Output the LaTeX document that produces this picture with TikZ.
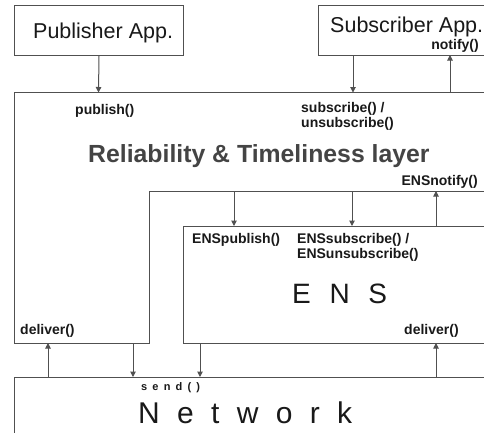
\documentclass[tikz,border=0pt]{standalone}
\usepackage{fontspec}
\setmainfont{Liberation Sans}
\usetikzlibrary{arrows.meta}
\definecolor{ln}{RGB}{80,80,80}
\definecolor{tx}{RGB}{25,25,25}
\definecolor{big}{RGB}{68,68,68}
\begin{document}
\begin{tikzpicture}[x=1pt,y=-1pt,
  box/.style={draw=ln, line width=1pt},
  arr/.style={draw=ln, line width=1pt, -{Triangle[length=5.5pt,width=5.5pt]}},
  lbl/.style={inner sep=0pt, anchor=base west, font=\fontsize{14}{16}\selectfont\bfseries, text=tx},
  lble/.style={lbl, anchor=base east},
  apptext/.style={inner sep=0pt, anchor=base west, font=\fontsize{21.5}{24}\selectfont, text=tx},
]
\useasboundingbox (0,0) rectangle (484,432);
\clip (0,0) rectangle (484,432);
\fill[white] (0,0) rectangle (484,432);

% boxes
\node[box, minimum width=169pt, minimum height=50pt, anchor=north west, inner sep=0pt] (pub) at (14,5) {};
\node[apptext] (pubtext) at (33,38) {Publisher App.};
\node[box, minimum width=190pt, minimum height=50pt, anchor=north west, inner sep=0pt] (sub) at (318,5) {};
\node[apptext] (subtext) at (330,32) {Subscriber App.};

% Reliability & Timeliness layer (L-shaped)
\draw[box] (500,92.5) -- (14,92.5) -- (14,343) -- (149,343) -- (149,191) -- (500,191);
% ENS
\draw[box] (500,226) -- (183,226) -- (183,343) -- (500,343);
% Network
\draw[box] (14,440) -- (14,377) -- (500,377);

% connector end points
\coordinate (pubin) at (98.5,92.5);
\coordinate (subout) at (353,55);
\coordinate (subin) at (353,92.5);
\coordinate (notout) at (450,92.5);
\coordinate (notin) at (450,55);
\coordinate (ensp1) at (234,191);
\coordinate (ensp2) at (234,226);
\coordinate (enss1) at (352,191);
\coordinate (enss2) at (352,226);
\coordinate (ensn1) at (436,226);
\coordinate (ensn2) at (436,191);
\coordinate (dl1) at (48,377);
\coordinate (dl2) at (48,343);
\coordinate (sd1) at (133,343);
\coordinate (sd2) at (133,377);
\coordinate (se1) at (200,343);
\coordinate (se2) at (200,377);
\coordinate (dr1) at (436,377);
\coordinate (dr2) at (436,343);

\draw[arr] (pub.south) -- (pubin);
\draw[arr] (subout) -- (subin);
\draw[arr] (notout) -- (notin);
\draw[arr] (ensp1) -- (ensp2);
\draw[arr] (enss1) -- (enss2);
\draw[arr] (ensn1) -- (ensn2);
\draw[arr] (dl1) -- (dl2);
\draw[arr] (sd1) -- (sd2);
\draw[arr] (se1) -- (se2);
\draw[arr] (dr1) -- (dr2);

% labels
\node[lbl] (lpub) at (75,114) {publish()};
\node[lbl] (lsub1) at (301,112) {subscribe() /};
\node[lbl] (lsub2) at (301,127) {unsubscribe()};
\node[lble] (lnot) at (479,49) {notify()};
\node[inner sep=0pt, anchor=base west, font=\fontsize{24.8}{28}\selectfont\bfseries, text=big] (rtl) at (88,162) {Reliability \& Timeliness layer};
\node[lble] (lensn) at (478,185) {ENSnotify()};
\node[lbl] (lensp) at (192,243) {ENSpublish()};
\node[lbl] (lenss1) at (297,243) {ENSsubscribe() /};
\node[lbl] (lenss2) at (297,258) {ENSunsubscribe()};
\node[inner sep=0pt, anchor=base west, font=\fontsize{28}{32}\selectfont\addfontfeature{LetterSpace=39}, text=tx] (ens) at (292,303) {E N S};
\node[lbl] (ldl) at (20,334) {deliver()};
\node[lbl] (ldr) at (404,334) {deliver()};
\node[inner sep=0pt, anchor=base west, font=\fontsize{11}{13}\selectfont\bfseries\addfontfeature{LetterSpace=47}, text=tx] (lsend) at (141,390) {send()};
\node[inner sep=0pt, anchor=base west, font=\fontsize{30}{34}\selectfont\addfontfeature{LetterSpace=30}, text=tx] (net) at (138,423) {N e t w o r k};
\end{tikzpicture}
\end{document}
